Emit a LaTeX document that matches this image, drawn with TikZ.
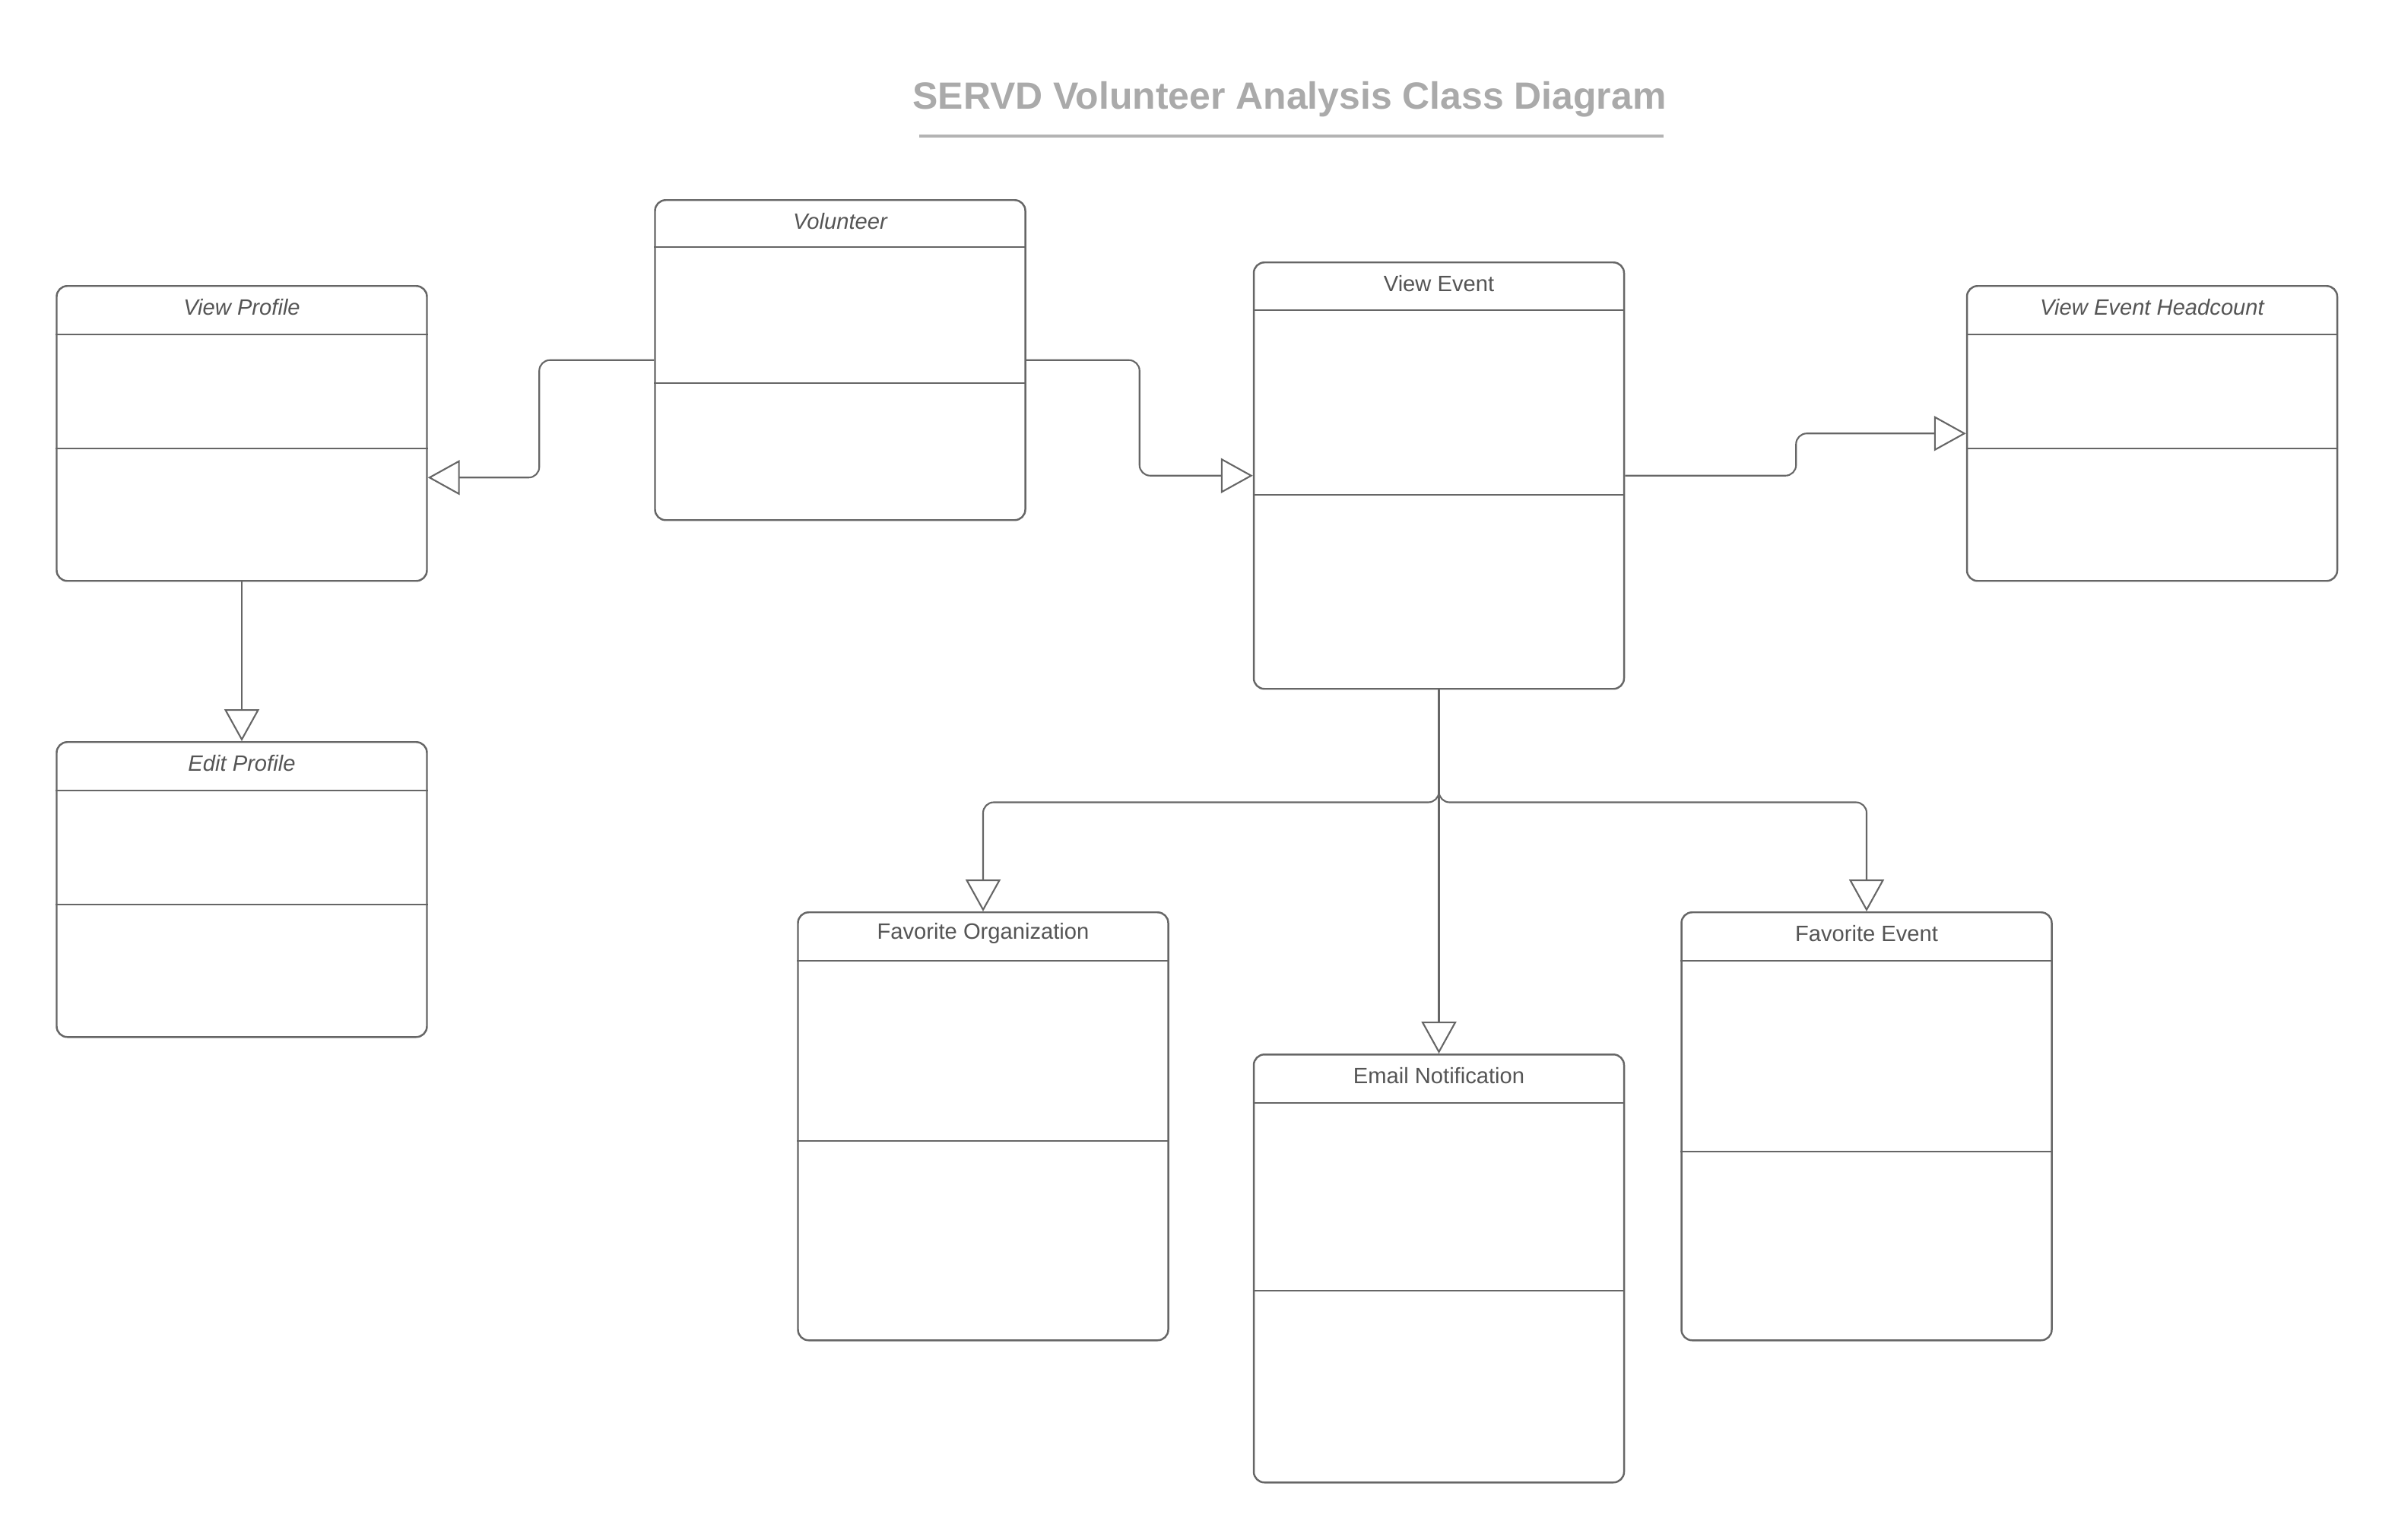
\documentclass[tikz,border=0pt]{standalone}
\usepackage{fontspec}
\setmainfont{Liberation Sans}
\usetikzlibrary{arrows.meta, positioning, calc}
\definecolor{linecolor}{RGB}{102, 102, 102}
\definecolor{textcolor}{RGB}{85, 85, 85}
\definecolor{titlecolor}{RGB}{170, 170, 170}
\definecolor{rulecolor}{RGB}{179, 179, 179}
\tikzset{
    % Class boxes
    classbox/.style={
        draw=linecolor, line width=0.7pt, rounded corners=0.14cm,
        minimum width=4.87cm, inner sep=0pt, anchor=north
    },
    % Class names (italic for the abstract ones)
    classname/.style={font=\fontsize{8.3}{10}\selectfont, text=textcolor},
    abstractname/.style={font=\fontsize{8.3}{10}\selectfont\itshape, text=textcolor},
    % Compartment lines
    headline/.style={draw=linecolor, line width=0.7pt},
    divline/.style={draw=linecolor, line width=0.45pt},
    % Arrows
    genarrow/.style={-{Triangle[length=0.42cm, width=0.46cm, fill=white]}, line width=0.6pt, linecolor, rounded corners=0.14cm},
    % Title
    titlelabel/.style={font=\bfseries\fontsize{14.2}{17}\selectfont, text=titlecolor},
}

\begin{document}
\begin{tikzpicture}
\useasboundingbox (0,0) rectangle (31.5,-20.25);

% Title
\node[titlelabel] (title) at (16.96,-1.31) {SERVD Volunteer Analysis Class Diagram};
\draw[rulecolor, line width=1.1pt] (12.09,-1.79) -- (21.88,-1.79);

% Volunteer
\node[classbox, minimum height=4.21cm] (vol) at (11.05,-2.62) {};
\node[abstractname] (vol-name) at ($(vol.north)+(0,-0.29)$) {Volunteer};
\draw[headline] ($(vol.north west)+(0,-0.63)$) -- ($(vol.north east)+(0,-0.63)$);
\draw[divline] ($(vol.north west)+(0,-2.42)$) -- ($(vol.north east)+(0,-2.42)$);

% View Profile
\node[classbox, minimum height=3.88cm] (vprof) at (3.18,-3.75) {};
\node[abstractname] (vprof-name) at ($(vprof.north)+(0,-0.29)$) {View Profile};
\draw[headline] ($(vprof.north west)+(0,-0.65)$) -- ($(vprof.north east)+(0,-0.65)$);
\draw[divline] ($(vprof.north west)+(0,-2.15)$) -- ($(vprof.north east)+(0,-2.15)$);

% Edit Profile
\node[classbox, minimum height=3.88cm] (eprof) at (3.18,-9.75) {};
\node[abstractname] (eprof-name) at ($(eprof.north)+(0,-0.29)$) {Edit Profile};
\draw[headline] ($(eprof.north west)+(0,-0.65)$) -- ($(eprof.north east)+(0,-0.65)$);
\draw[divline] ($(eprof.north west)+(0,-2.15)$) -- ($(eprof.north east)+(0,-2.15)$);

% View Event
\node[classbox, minimum height=5.61cm] (vevent) at (18.925,-3.44) {};
\node[classname] (vevent-name) at ($(vevent.north)+(0,-0.29)$) {View Event};
\draw[headline] ($(vevent.north west)+(0,-0.64)$) -- ($(vevent.north east)+(0,-0.64)$);
\draw[divline] ($(vevent.north west)+(0,-3.07)$) -- ($(vevent.north east)+(0,-3.07)$);

% View Event Headcount
\node[classbox, minimum height=3.88cm] (vhead) at (28.305,-3.75) {};
\node[abstractname] (vhead-name) at ($(vhead.north)+(0,-0.29)$) {View Event Headcount};
\draw[headline] ($(vhead.north west)+(0,-0.65)$) -- ($(vhead.north east)+(0,-0.65)$);
\draw[divline] ($(vhead.north west)+(0,-2.15)$) -- ($(vhead.north east)+(0,-2.15)$);

% Favorite Organization
\node[classbox, minimum height=5.63cm] (forg) at (12.93,-11.99) {};
\node[classname] (forg-name) at ($(forg.north)+(0,-0.29)$) {Favorite Organization};
\draw[headline] ($(forg.north west)+(0,-0.65)$) -- ($(forg.north east)+(0,-0.65)$);
\draw[divline] ($(forg.north west)+(0,-3.02)$) -- ($(forg.north east)+(0,-3.02)$);

% Email Notification
\node[classbox, minimum height=5.63cm] (email) at (18.925,-13.86) {};
\node[classname] (email-name) at ($(email.north)+(0,-0.29)$) {Email Notification};
\draw[headline] ($(email.north west)+(0,-0.65)$) -- ($(email.north east)+(0,-0.65)$);
\draw[divline] ($(email.north west)+(0,-3.12)$) -- ($(email.north east)+(0,-3.12)$);

% Favorite Event
\node[classbox, minimum height=5.63cm] (fevent) at (24.55,-11.99) {};
\node[classname] (fevent-name) at ($(fevent.north)+(0,-0.29)$) {Favorite Event};
\draw[headline] ($(fevent.north west)+(0,-0.65)$) -- ($(fevent.north east)+(0,-0.65)$);
\draw[divline] ($(fevent.north west)+(0,-3.16)$) -- ($(fevent.north east)+(0,-3.16)$);

% Generalisation arrows
\draw[genarrow] (vol.west) -- ++(-1.51,0) |- ($(vprof.east)+(0,-0.58)$);
\draw[genarrow] (vol.east) -- ++(1.49,0) |- (vevent.west);
\draw[genarrow] (vevent.east) -- ++(2.25,0) |- (vhead.west);
\draw[genarrow] (vprof.south) -- (eprof.north);
\draw[genarrow] (vevent.south) -- ++(0,-1.48) -| (forg.north);
\draw[genarrow] (vevent.south) -- (email.north);
\draw[genarrow] (vevent.south) -- ++(0,-1.48) -| (fevent.north);

\end{tikzpicture}
\end{document}
